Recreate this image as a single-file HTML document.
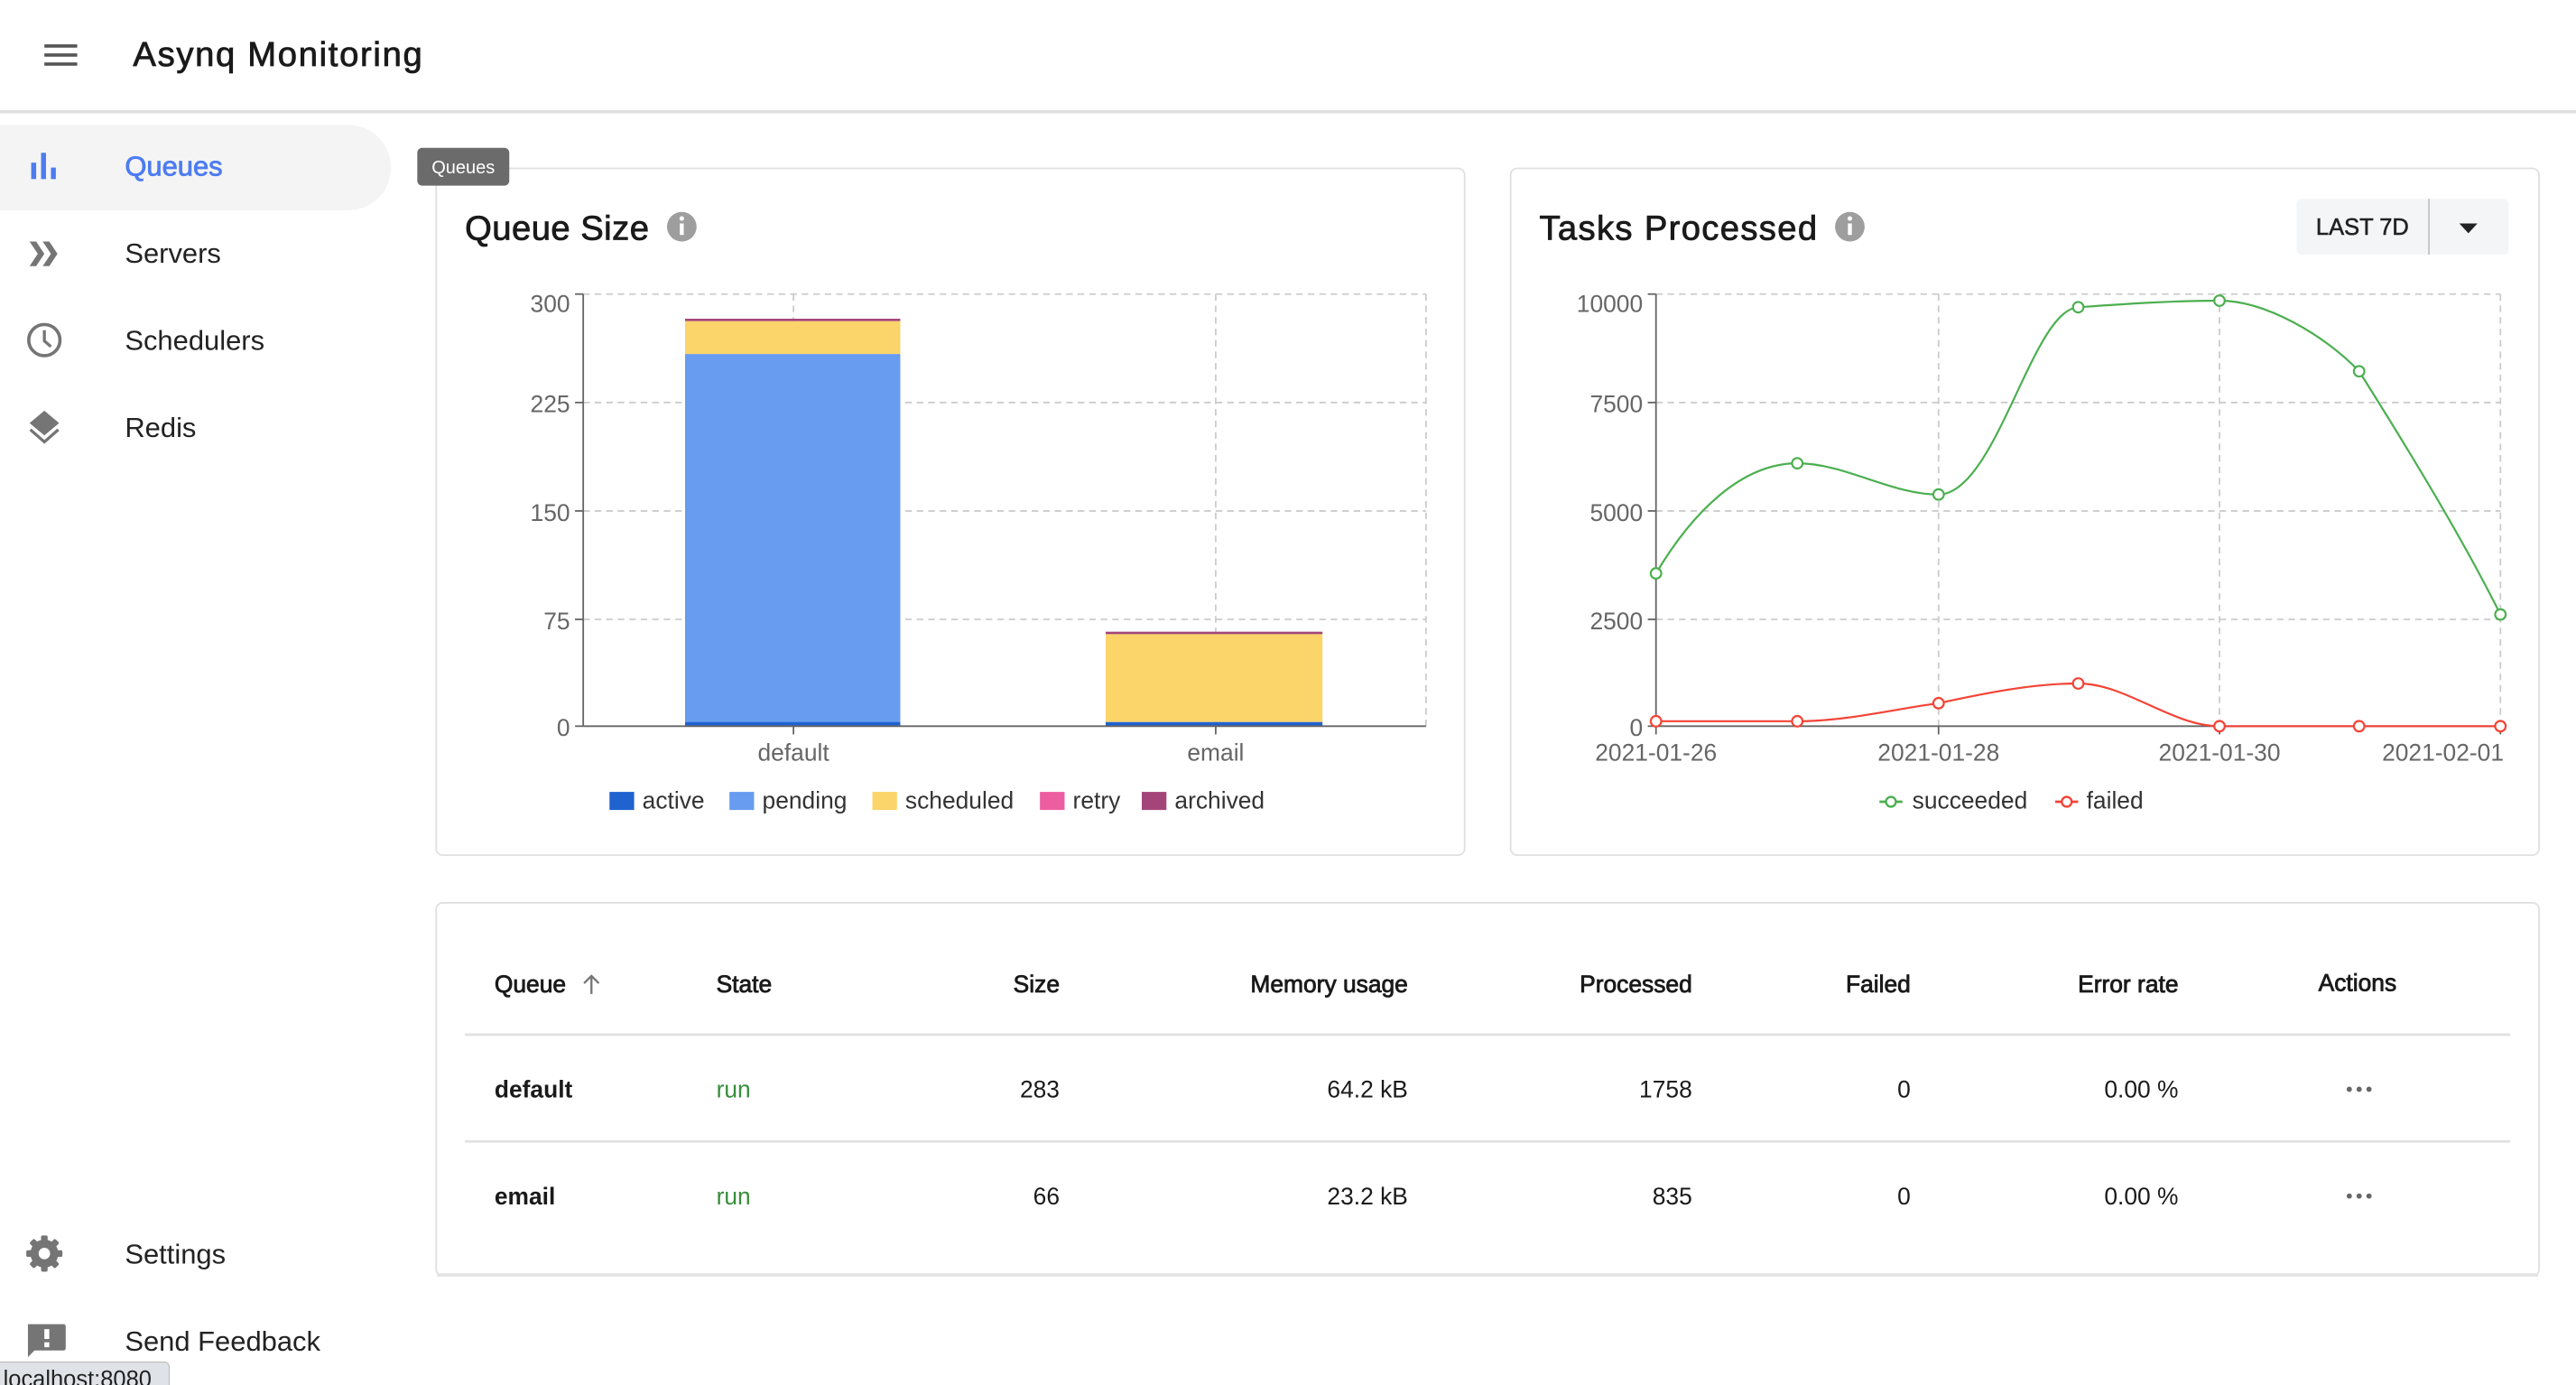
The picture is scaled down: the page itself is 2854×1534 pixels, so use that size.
<!DOCTYPE html>
<html><head><meta charset="utf-8"><style>
html,body{margin:0;padding:0;background:#fff;overflow:hidden}
svg{display:block}
text{font-family:"Liberation Sans",sans-serif}
.m{stroke-width:0.45px}
</style></head><body>
<svg width="2854" height="1534" viewBox="0 0 1568 843" preserveAspectRatio="none" xmlns="http://www.w3.org/2000/svg">
<rect width="1568" height="843" fill="#fff"/>
<!-- header -->
<rect x="0" y="67" width="1568" height="2" fill="#e0e0e0"/>
<rect x="27" y="27" width="20" height="2" fill="#555"/>
<rect x="27" y="32.5" width="20" height="2" fill="#555"/>
<rect x="27" y="38" width="20" height="2" fill="#555"/>
<text x="81" y="40" font-size="21" fill="#1a1a1a" stroke="#1a1a1a" class="m" textLength="176">Asynq Monitoring</text>
<!-- sidebar -->
<path d="M0 76 H212 A26 26 0 0 1 212 128 H0 Z" fill="#f4f4f4"/>
<rect x="19" y="99" width="3" height="10" fill="#4d7cf0"/>
<rect x="25" y="93" width="3" height="16" fill="#4d7cf0"/>
<rect x="31" y="102" width="3" height="7" fill="#4d7cf0"/>
<text x="76" y="107" font-size="17" fill="#4d7cf0" stroke="#4d7cf0" class="m">Queues</text>
<path d="M18 147 L23 154.5 L18 162 L22 162 L27 154.5 L22 147 Z M26 147 L31 154.5 L26 162 L30 162 L35 154.5 L30 147 Z" fill="#757575"/>
<text x="76" y="160" font-size="17" fill="#222">Servers</text>
<circle cx="27" cy="207" r="9.5" fill="none" stroke="#757575" stroke-width="2"/>
<path d="M27 201 V207.5 L31 211" fill="none" stroke="#757575" stroke-width="1.8"/>
<text x="76" y="213" font-size="17" fill="#222">Schedulers</text>
<path d="M27 250 L36 257.5 L27 265 L18 257.5 Z" fill="#757575"/>
<path d="M18.5 261.5 L27 269 L35.5 261.5" fill="none" stroke="#757575" stroke-width="1.8"/>
<text x="76" y="266" font-size="17" fill="#222">Redis</text>
<circle cx="27" cy="763" r="8.5" fill="#757575"/>
<g fill="#757575">
<rect x="25" y="752" width="4" height="22" rx="1"/><rect x="16" y="761" width="22" height="4" rx="1"/>
<rect x="25" y="752" width="4" height="22" rx="1" transform="rotate(45 27 763)"/><rect x="25" y="752" width="4" height="22" rx="1" transform="rotate(-45 27 763)"/>
</g>
<circle cx="27" cy="763" r="3.5" fill="#fff"/>
<text x="76" y="769" font-size="17" fill="#222">Settings</text>
<path d="M17 806 H39 A1.5 1.5 0 0 1 40 807.5 V821 A1.5 1.5 0 0 1 39 822 H21 L17 826 Z" fill="#757575"/>
<rect x="27" y="809" width="3" height="6" fill="#fff"/><rect x="27" y="817" width="3" height="3" fill="#fff"/>
<text x="76" y="822" font-size="17" fill="#222">Send Feedback</text>
<rect x="-2" y="829" width="105" height="18" rx="3" fill="#dfe3e8" stroke="#bbb" stroke-width="0.6"/>
<text x="2" y="844" font-size="14" fill="#222">localhost:8080</text>
<!-- card 1 -->
<rect x="265.5" y="102.5" width="626" height="418" rx="4" fill="#fff" stroke="#e0e0e0"/>
<rect x="254" y="90" width="56" height="23" rx="3" fill="#6b6b6b"/>
<text x="282" y="105.5" font-size="11" fill="#fff" text-anchor="middle">Queues</text>
<text x="283" y="146" font-size="21" fill="#1a1a1a" stroke="#1a1a1a" class="m" textLength="112">Queue Size</text>
<circle cx="415" cy="138" r="9" fill="#9e9e9e"/>
<rect x="413.8" y="136" width="2.4" height="7" fill="#fff"/><circle cx="415" cy="133" r="1.4" fill="#fff"/>
<g stroke="#ccc" stroke-dasharray="4 3" stroke-width="1">
<line x1="355" y1="179" x2="868" y2="179"/><line x1="355" y1="245" x2="868" y2="245"/>
<line x1="355" y1="311" x2="868" y2="311"/><line x1="355" y1="377" x2="868" y2="377"/>
<line x1="483" y1="179" x2="483" y2="442"/><line x1="740" y1="179" x2="740" y2="442"/><line x1="868" y1="179" x2="868" y2="442"/>
</g>
<rect x="417" y="194" width="131" height="1.5" fill="#a4457a"/>
<rect x="417" y="195.5" width="131" height="20" fill="#fbd46a"/>
<rect x="417" y="215.5" width="131" height="224.5" fill="#679cf0"/>
<rect x="417" y="439.5" width="131" height="2.5" fill="#1f62d0"/>
<rect x="673" y="384.5" width="132" height="1.5" fill="#a4457a"/>
<rect x="673" y="386" width="132" height="53.5" fill="#fbd46a"/>
<rect x="673" y="439.5" width="132" height="2.5" fill="#1f62d0"/>
<g stroke="#666" stroke-width="1">
<line x1="355" y1="179" x2="355" y2="442"/><line x1="355" y1="442" x2="868" y2="442"/>
<line x1="350" y1="179" x2="355" y2="179"/><line x1="350" y1="245" x2="355" y2="245"/><line x1="350" y1="311" x2="355" y2="311"/><line x1="350" y1="377" x2="355" y2="377"/><line x1="350" y1="442" x2="355" y2="442"/>
<line x1="483" y1="442" x2="483" y2="447"/><line x1="740" y1="442" x2="740" y2="447"/>
</g>
<g font-size="14.5" fill="#666" text-anchor="end">
<text x="347" y="190">300</text><text x="347" y="251">225</text><text x="347" y="317">150</text><text x="347" y="383">75</text><text x="347" y="448">0</text>
</g>
<g font-size="14.5" fill="#666" text-anchor="middle"><text x="483" y="463">default</text><text x="740" y="463">email</text></g>
<g font-size="14.5" fill="#333">
<rect x="371" y="482" width="15" height="11" fill="#1f62d0"/><text x="391" y="492">active</text>
<rect x="444" y="482" width="15" height="11" fill="#679cf0"/><text x="464" y="492">pending</text>
<rect x="531" y="482" width="15" height="11" fill="#fbd46a"/><text x="551" y="492">scheduled</text>
<rect x="633" y="482" width="15" height="11" fill="#ed5ea0"/><text x="653" y="492">retry</text>
<rect x="695" y="482" width="15" height="11" fill="#a4457a"/><text x="715" y="492">archived</text>
</g>
<!-- card 2 -->
<rect x="919.5" y="102.5" width="626" height="418" rx="4" fill="#fff" stroke="#e0e0e0"/>
<text x="937" y="146" font-size="21" fill="#1a1a1a" stroke="#1a1a1a" class="m" textLength="169">Tasks Processed</text>
<circle cx="1126" cy="138" r="9" fill="#9e9e9e"/>
<rect x="1124.8" y="136" width="2.4" height="7" fill="#fff"/><circle cx="1126" cy="133" r="1.4" fill="#fff"/>
<rect x="1398" y="121" width="129" height="34" rx="3" fill="#f4f5f7"/>
<rect x="1478" y="121" width="1" height="34" fill="#c4c4c4"/>
<text x="1438" y="143" font-size="14" fill="#222" stroke="#222" stroke-width="0.3" text-anchor="middle">LAST 7D</text>
<path d="M1497 136 L1508 136 L1502.5 142 Z" fill="#222"/>
<g stroke="#ccc" stroke-dasharray="4 3" stroke-width="1">
<line x1="1008" y1="179" x2="1522" y2="179"/><line x1="1008" y1="245" x2="1522" y2="245"/>
<line x1="1008" y1="311" x2="1522" y2="311"/><line x1="1008" y1="377" x2="1522" y2="377"/>
<line x1="1180" y1="179" x2="1180" y2="442"/><line x1="1351" y1="179" x2="1351" y2="442"/><line x1="1522" y1="179" x2="1522" y2="442"/>
</g>
<g stroke="#666" stroke-width="1">
<line x1="1008" y1="179" x2="1008" y2="442"/><line x1="1008" y1="442" x2="1522" y2="442"/>
<line x1="1003" y1="179" x2="1008" y2="179"/><line x1="1003" y1="245" x2="1008" y2="245"/><line x1="1003" y1="311" x2="1008" y2="311"/><line x1="1003" y1="377" x2="1008" y2="377"/><line x1="1003" y1="442" x2="1008" y2="442"/>
<line x1="1008" y1="442" x2="1008" y2="447"/><line x1="1180" y1="442" x2="1180" y2="447"/><line x1="1351" y1="442" x2="1351" y2="447"/><line x1="1522" y1="442" x2="1522" y2="447"/>
</g>
<g font-size="14.5" fill="#666" text-anchor="end">
<text x="1000" y="190">10000</text><text x="1000" y="251">7500</text><text x="1000" y="317">5000</text><text x="1000" y="383">2500</text><text x="1000" y="448">0</text>
</g>
<g font-size="14.5" fill="#666" text-anchor="middle"><text x="1008" y="463">2021-01-26</text><text x="1180" y="463">2021-01-28</text><text x="1351" y="463">2021-01-30</text><text x="1487" y="463">2021-02-01</text></g>
<path d="M1008 349 C1030 312 1060 282 1094 282 C1123 282 1151 301 1180 301 C1215 301 1237 188 1265 187 C1294 185 1322 183 1351 183 C1379 183 1415 204 1436 226 C1470 280 1500 330 1522 374" fill="none" stroke="#4caf50" stroke-width="1.2"/>
<path d="M1008 439 C1037 439 1065 439 1094 439 C1123 439 1151 432 1180 428 C1208 422 1237 416 1265 416 C1294 416 1322 442 1351 442 L1522 442" fill="none" stroke="#f44336" stroke-width="1.2"/>
<g fill="#fff" stroke="#4caf50" stroke-width="1.2">
<circle cx="1008" cy="349" r="3.2"/><circle cx="1094" cy="282" r="3.2"/><circle cx="1180" cy="301" r="3.2"/><circle cx="1265" cy="187" r="3.2"/><circle cx="1351" cy="183" r="3.2"/><circle cx="1436" cy="226" r="3.2"/><circle cx="1522" cy="374" r="3.2"/>
</g>
<g fill="#fff" stroke="#f44336" stroke-width="1.2">
<circle cx="1008" cy="439" r="3.2"/><circle cx="1094" cy="439" r="3.2"/><circle cx="1180" cy="428" r="3.2"/><circle cx="1265" cy="416" r="3.2"/><circle cx="1351" cy="442" r="3.2"/><circle cx="1436" cy="442" r="3.2"/><circle cx="1522" cy="442" r="3.2"/>
</g>
<line x1="1144" y1="488" x2="1158" y2="488" stroke="#4caf50" stroke-width="1.5"/><circle cx="1151" cy="488" r="3" fill="#fff" stroke="#4caf50" stroke-width="1.3"/>
<text x="1164" y="492" font-size="14.5" fill="#333">succeeded</text>
<line x1="1251" y1="488" x2="1265" y2="488" stroke="#f44336" stroke-width="1.5"/><circle cx="1258" cy="488" r="3" fill="#fff" stroke="#f44336" stroke-width="1.3"/>
<text x="1270" y="492" font-size="14.5" fill="#333">failed</text>
<!-- table -->
<rect x="265.5" y="549.5" width="1280" height="227" rx="4" fill="#fff" stroke="#e0e0e0"/>
<rect x="266" y="775" width="1279" height="2" fill="#e4e4e4"/>
<rect x="283" y="629" width="1245" height="1.5" fill="#e0e0e0"/>
<rect x="283" y="694" width="1245" height="1.5" fill="#e0e0e0"/>
<g font-size="14.5" fill="#1a1a1a" stroke="#1a1a1a" class="m">
<text x="301" y="604">Queue</text><text x="436" y="604">State</text>
<text x="645" y="604" text-anchor="end">Size</text><text x="857" y="604" text-anchor="end">Memory usage</text>
<text x="1030" y="604" text-anchor="end">Processed</text><text x="1163" y="604" text-anchor="end">Failed</text>
<text x="1326" y="604" text-anchor="end">Error rate</text><text x="1435" y="603" text-anchor="middle">Actions</text>
</g>
<path d="M360 605 V594 M355.5 598.5 L360 594 L364.5 598.5" fill="none" stroke="#777" stroke-width="1.3"/>
<g font-size="14.5" fill="#1a1a1a">
<text x="301" y="668" font-weight="bold">default</text><text x="436" y="668" fill="#388e3c">run</text>
<text x="645" y="668" text-anchor="end">283</text><text x="857" y="668" text-anchor="end">64.2 kB</text>
<text x="1030" y="668" text-anchor="end">1758</text><text x="1163" y="668" text-anchor="end">0</text><text x="1326" y="668" text-anchor="end">0.00 %</text>
<text x="301" y="733" font-weight="bold">email</text><text x="436" y="733" fill="#388e3c">run</text>
<text x="645" y="733" text-anchor="end">66</text><text x="857" y="733" text-anchor="end">23.2 kB</text>
<text x="1030" y="733" text-anchor="end">835</text><text x="1163" y="733" text-anchor="end">0</text><text x="1326" y="733" text-anchor="end">0.00 %</text>
</g>
<g fill="#666"><circle cx="1430" cy="663" r="1.6"/><circle cx="1436" cy="663" r="1.6"/><circle cx="1442" cy="663" r="1.6"/>
<circle cx="1430" cy="728" r="1.6"/><circle cx="1436" cy="728" r="1.6"/><circle cx="1442" cy="728" r="1.6"/></g>
</svg>
</body></html>
